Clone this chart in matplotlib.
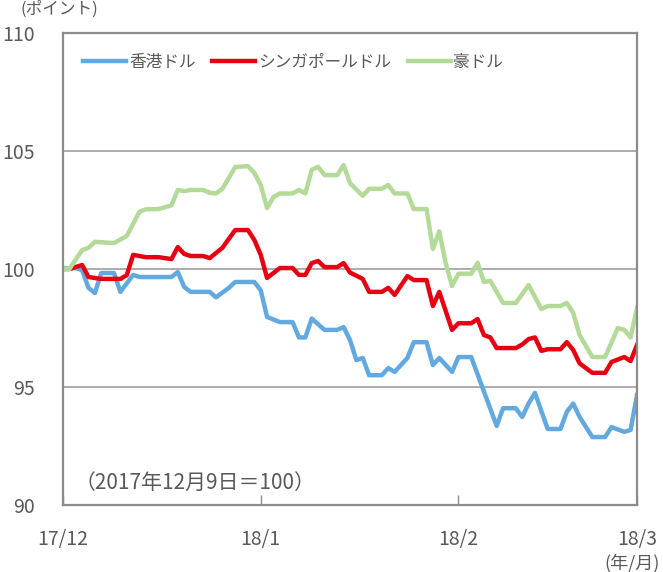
# 香港ドル・シンガポールドル・豪ドルの推移 (2017年12月9日=100)
import matplotlib
matplotlib.use("Agg")
import matplotlib.pyplot as plt

plt.rcParams["font.family"] = ["Noto Sans CJK JP", "DejaVu Sans"]

# 日数は2017/12/9からの経過日数
hkd_days = [0, 2, 3, 4, 5, 6, 8, 9, 11, 12, 17, 18, 19, 20, 23, 24, 26, 27, 30, 31,
            32, 34, 36, 37, 38, 39, 41, 43, 44, 45, 46, 47, 48, 50, 51, 52, 54, 55,
            57, 58, 59, 61, 62, 64, 68, 69, 71, 72, 73, 74, 76, 78, 79, 80, 81, 83,
            85, 86, 88, 89, 90]
hkd = [100.0, 100.04, 99.95, 99.2, 98.98, 99.83, 99.83, 99.03, 99.75, 99.66, 99.66,
       99.87, 99.24, 99.03, 99.03, 98.8, 99.2, 99.45, 99.45, 99.1,
       97.97, 97.75, 97.75, 97.1, 97.1, 97.9, 97.42, 97.42, 97.54, 96.99, 96.14,
       96.23, 95.5, 95.5, 95.8, 95.64, 96.23, 96.9,
       96.9, 95.93, 96.23, 95.64, 96.27, 96.27, 93.35, 94.1, 94.1, 93.73, 94.3,
       94.75, 93.22, 93.22, 93.95, 94.3, 93.73, 92.88,
       92.88, 93.3, 93.1, 93.18, 94.66]

sgd_days = [0, 1, 3, 4, 6, 9, 10, 11, 13, 15, 17, 18, 19, 20, 22, 23, 24, 25, 27, 29,
            30, 31, 32, 34, 36, 37, 38, 39, 40, 41, 43, 44, 45, 47, 48, 50, 51, 52,
            54, 55, 57, 58, 59, 61, 62, 64, 65, 66, 67, 68, 71, 72, 73, 74, 75, 76,
            78, 79, 80, 81, 83, 85, 86, 88, 89, 90]
sgd = [100.0, 100.0, 100.17, 99.66, 99.58, 99.58, 99.74, 100.6, 100.5, 100.5, 100.42,
       100.93, 100.64, 100.55, 100.55, 100.46, 100.68, 100.9, 101.65, 101.65,
       101.23, 100.6, 99.62, 100.04, 100.04, 99.75, 99.75, 100.25, 100.34, 100.08,
       100.08, 100.25, 99.85, 99.58, 99.03, 99.03, 99.2, 98.9,
       99.7, 99.53, 99.53, 98.43, 99.03, 97.42, 97.7, 97.7, 97.88, 97.2, 97.1,
       96.65, 96.65, 96.8, 97.03, 97.1, 96.53, 96.6,
       96.6, 96.9, 96.57, 96.0, 95.6, 95.6, 96.06, 96.27, 96.1, 96.78]

aud_days = [0, 1, 3, 4, 5, 8, 10, 12, 13, 15, 17, 18, 19, 20, 22, 23, 24, 25, 27, 29,
            30, 31, 32, 33, 34, 36, 37, 38, 39, 40, 41, 43, 44, 45, 47, 48, 50, 51,
            52, 54, 55, 57, 58, 59, 60, 61, 62, 64, 65, 66, 67, 69, 71, 73, 75, 76,
            78, 79, 80, 81, 83, 85, 87, 88, 89, 90]
aud = [100.0, 100.0, 100.8, 100.9, 101.15, 101.1, 101.4, 102.43, 102.53, 102.54,
       102.7, 103.35, 103.3, 103.35, 103.35, 103.23, 103.2, 103.4, 104.32, 104.36,
       104.07, 103.56, 102.58, 103.05, 103.2, 103.2, 103.35, 103.2, 104.2, 104.33,
       103.98, 103.98, 104.4, 103.64, 103.1, 103.4, 103.4, 103.56,
       103.2, 103.2, 102.54, 102.54, 100.85, 101.6, 100.25, 99.28, 99.8, 99.8,
       100.26, 99.45, 99.5, 98.56, 98.56, 99.32, 98.3, 98.43,
       98.43, 98.56, 98.14, 97.2, 96.27, 96.27, 97.5, 97.42, 97.1, 98.35]

tick_days = [0, 31, 62, 90]
tick_labels = ["17/12", "18/1", "18/2", "18/3"]
y_ticks = [90, 95, 100, 105, 110]

TEXT = "#595959"
FRAME = "#8c8c8c"

fig = plt.figure(figsize=(6.63, 5.72), dpi=100)
ax = fig.add_axes([63 / 663, 1 - 505 / 572, 574 / 663, 472 / 572])

ax.plot(hkd_days, hkd, color="#62a9df", lw=3.2, label="香港ドル", solid_joinstyle="round")
ax.plot(sgd_days, sgd, color="#e60012", lw=3.2, label="シンガポールドル", solid_joinstyle="round")
ax.plot(aud_days, aud, color="#b3da98", lw=3.2, label="豪ドル", solid_joinstyle="round")

ax.set_xlim(0, 90)
ax.set_ylim(90, 110)
ax.set_yticks(y_ticks)
ax.set_xticks(tick_days)
ax.set_xticklabels(tick_labels)
ax.yaxis.grid(True, color="#a6a6a6", lw=1.3)
ax.set_axisbelow(True)
for s in ax.spines.values():
    s.set_color(FRAME)
    s.set_linewidth(1.6)
ax.tick_params(axis="x", direction="in", length=7, width=1, color=FRAME,
               labelsize=14, labelcolor=TEXT, pad=17)
ax.tick_params(axis="y", length=0, labelsize=14, labelcolor=TEXT, pad=20)

leg = ax.legend(loc="upper left", bbox_to_anchor=(0.035, 0.955), ncol=3, frameon=False,
                fontsize=12, handlelength=2.6, handletextpad=0.15, columnspacing=1.0,
                borderaxespad=0, borderpad=0)
for t in leg.get_texts():
    t.set_color(TEXT)

ax.text(0.02, 0.047, "（2017年12月9日＝100）", transform=ax.transAxes,
        fontsize=15, color=TEXT, va="center", ha="left")
fig.text(20 / 663, 1 - 9 / 572, "(ポイント)", fontsize=12, color=TEXT, va="center", ha="left")
fig.text(660 / 663, 1 - 563 / 572, "(年/月)", fontsize=13, color=TEXT, va="center", ha="right")

fig.savefig("out.png", dpi=100)
